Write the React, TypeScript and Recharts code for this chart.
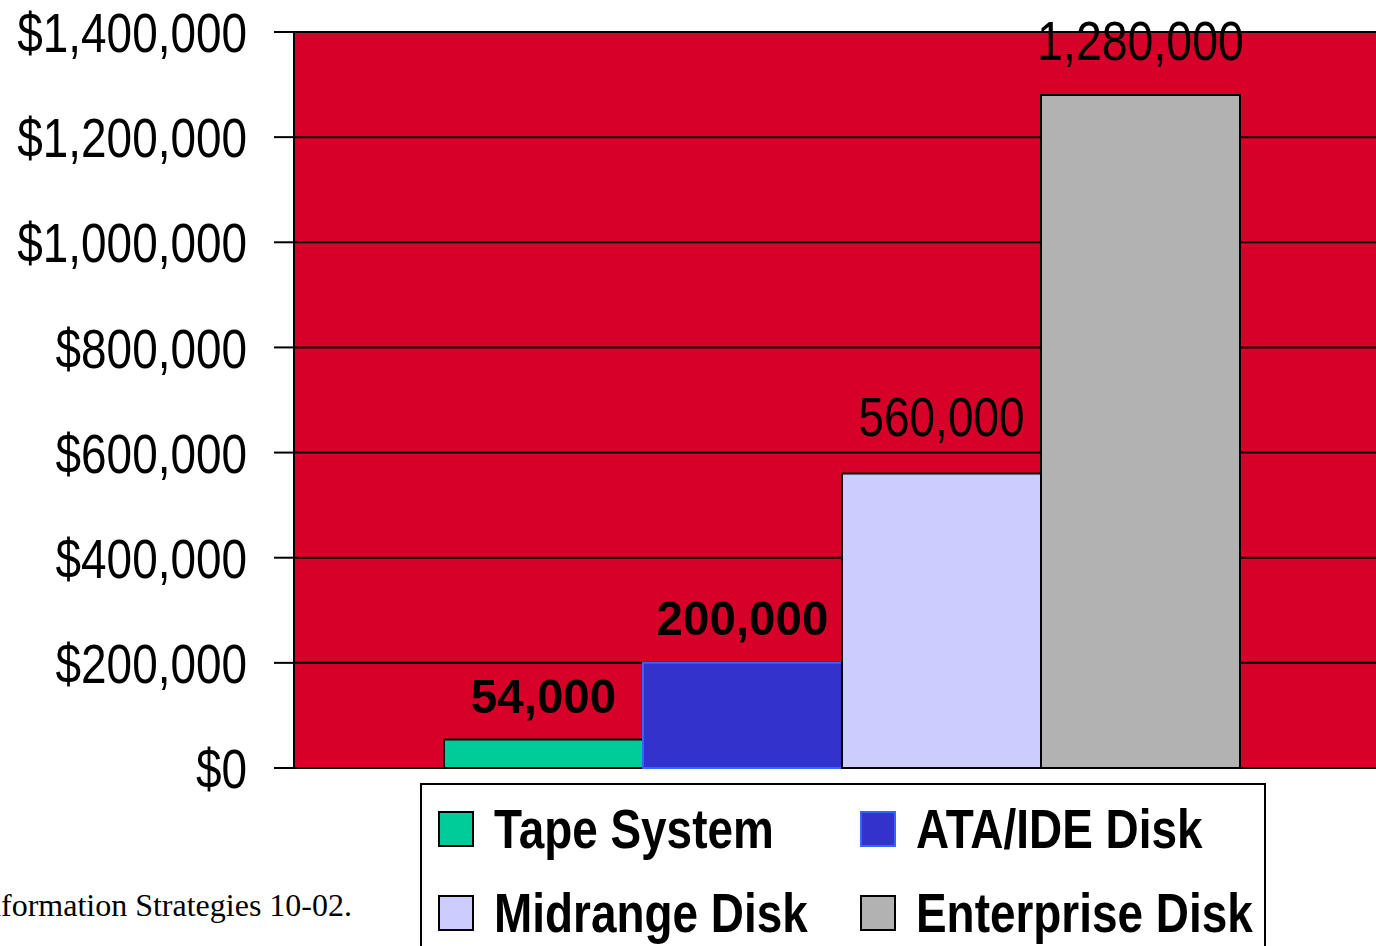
import React from 'react';
import { BarChart, Bar, XAxis, YAxis, CartesianGrid, LabelList, Legend, Customized } from 'recharts';

const categories = ['Cost'];
const seriesNames = ['Tape System', 'ATA/IDE Disk', 'Midrange Disk', 'Enterprise Disk'];
const seriesKeys = ['tape', 'ata', 'midrange', 'enterprise'];
const seriesValues = [54000, 200000, 560000, 1280000];
const seriesFills = ['#00CC99', '#3333CC', '#CCCCFF', '#B2B2B2'];
const seriesStrokes = ['#000000', '#3366FF', '#000000', '#000000'];
const yTicks = [0, 200000, 400000, 600000, 800000, 1000000, 1200000, 1400000];
const sourceNote = 'Information Strategies 10-02.';

// label styling per series (bold wide vs narrow regular, as in the reference)
const labelStyles = [
  { weight: 'bold', size: 49, scale: 0.97, offset: 27 },
  { weight: 'bold', size: 49, scale: 0.97, offset: 28 },
  { weight: 'normal', size: 56, scale: 0.82, offset: 38 },
  { weight: 'normal', size: 56, scale: 0.83, offset: 35 },
];

const FONT = '"Liberation Sans", Arial, sans-serif';
const NARROW = 0.82;

const data = categories.map((c) => {
  const row: any = { name: c };
  seriesKeys.forEach((k, i) => (row[k] = seriesValues[i]));
  return row;
});

const fmtMoney = (v: number) => '$' + v.toLocaleString('en-US');
const fmtNum = (v: number) => v.toLocaleString('en-US');

const YTick = (props: any) => {
  const { x, y, payload } = props;
  return (
    <g transform={`translate(${x},${y}) scale(${NARROW},1)`}>
      <text x={0} y={0} dy="0.36em" textAnchor="end" fill="#000" fontFamily={FONT} fontSize={56}>
        {fmtMoney(payload.value)}
      </text>
    </g>
  );
};

const makeLabel = (i: number) => (props: any) => {
  const { x, y, width, value } = props;
  const s = labelStyles[i];
  const cx = Number(x) + Number(width) / 2;
  const by = Number(y) - s.offset;
  return (
    <g transform={`translate(${cx},${by}) scale(${s.scale},1)`}>
      <text x={0} y={0} textAnchor="middle" fill="#000" fontFamily={FONT} fontSize={s.size} fontWeight={s.weight}>
        {fmtNum(Number(value))}
      </text>
    </g>
  );
};

const LegendContent = (props: any) => {
  const payload = [...(props.payload || [])].sort(
    (a: any, b: any) => seriesNames.indexOf(a.value) - seriesNames.indexOf(b.value)
  );
  return (
    <div style={{ position: 'relative', border: '2px solid #000', background: '#fff', width: 846, height: 200, boxSizing: 'border-box' }}>
      {payload.map((p: any, i: number) => {
        const idx = seriesNames.indexOf(p.value);
        const col = i % 2;
        const row = Math.floor(i / 2);
        const left = 16 + col * 422;
        const top = 26 + row * 84;
        return (
          <div key={i} style={{ position: 'absolute', left, top, height: 36, whiteSpace: 'nowrap' }}>
            <span style={{ position: 'absolute', left: 0, top: 0, width: 36, height: 36, boxSizing: 'border-box', background: seriesFills[idx], border: `2px solid ${seriesStrokes[idx]}` }} />
            <svg style={{ position: 'absolute', left: 56, top: -30, overflow: 'visible' }} width={400} height={80}>
              <g transform={`translate(0,67) scale(${NARROW},1)`}>
                <text x={0} y={0} fill="#000" fontFamily={FONT} fontSize={56} fontWeight="bold">
                  {p.value}
                </text>
              </g>
            </svg>
          </div>
        );
      })}
    </div>
  );
};

const AxisExtension = (props: any) => {
  const off = props.offset;
  if (!off) return null;
  const x = off.left;
  const y = off.top + off.height;
  return <line x1={x} y1={y} x2={x} y2={y + 18} stroke="#000" strokeWidth={2} />;
};

export default function App() {
  return (
    <div style={{ position: 'absolute', left: 0, top: 0, width: 1376, height: 946, overflow: 'hidden', background: '#fff' }}>
      <BarChart
        width={1400}
        height={946}
        data={data}
        margin={{ top: 32, right: 9, bottom: 178, left: 234 }}
        barCategoryGap={150}
        barGap={0}
      >
        <CartesianGrid vertical={false} stroke="#000" strokeWidth={2} fill="#D60028" fillOpacity={1} />
        <XAxis dataKey="name" tick={false} tickLine={false} axisLine={{ stroke: '#000', strokeWidth: 2 }} height={0} />
        <YAxis
          width={60}
          domain={[0, 1400000]}
          ticks={yTicks}
          interval={0}
          tickLine={{ stroke: '#000', strokeWidth: 2 }}
          tickSize={20}
          tickMargin={27}
          axisLine={{ stroke: '#000', strokeWidth: 2 }}
          tick={<YTick />}
        />
        {seriesKeys.map((k, i) => (
          <Bar key={k} dataKey={k} name={seriesNames[i]} fill={seriesFills[i]} stroke={seriesStrokes[i]} strokeWidth={2} isAnimationActive={false}>
            <LabelList dataKey={k} content={makeLabel(i)} />
          </Bar>
        ))}
        <Customized component={AxisExtension} />
        <Legend layout="horizontal" verticalAlign="middle" align="center" content={<LegendContent />} wrapperStyle={{ position: 'absolute', left: 420, top: 783, width: 846, height: 200 }} />
      </BarChart>
      <svg style={{ position: 'absolute', left: 0, top: 0 }} width={400} height={946}>
        <text x={352} y={916} textAnchor="end" fill="#000" fontFamily='"Liberation Serif", "Times New Roman", serif' fontSize={32}>
          {sourceNote}
        </text>
      </svg>
    </div>
  );
}
